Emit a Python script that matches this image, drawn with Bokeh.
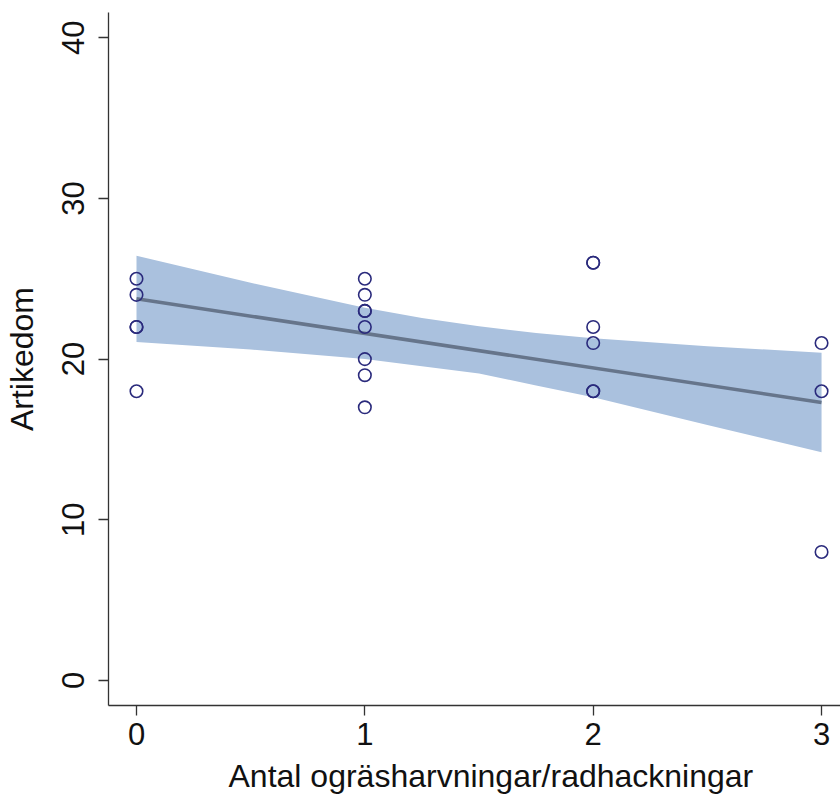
from bokeh.plotting import figure
from bokeh.models import Range1d, FixedTicker, Title
from bokeh.embed import file_html
from bokeh.resources import INLINE

# Observations (x = antal ogräsharvningar/radhackningar, y = artikedom)
x_pts = [0, 0, 0, 0, 0,
         1, 1, 1, 1, 1, 1, 1, 1,
         2, 2, 2, 2, 2, 2,
         3, 3, 3]
y_pts = [25, 24, 22, 22, 18,
         25, 24, 23, 23, 22, 20, 19, 17,
         26, 26, 22, 21, 18, 18,
         21, 18, 8]

# Fitted line
line_x = [0, 3]
line_y = [23.75, 17.3]

# Confidence band
band_x = [0, 0.5, 1, 1.25, 1.5, 1.75, 2, 2.5, 3]
band_upper = [26.43, 24.75, 23.2, 22.56, 22.04, 21.62, 21.3, 20.8, 20.4]
band_lower = [21.07, 20.6, 20.0, 19.56, 19.1, 18.36, 17.62, 15.9, 14.2]

x_ticks = [0, 1, 2, 3]
y_ticks = [0, 10, 20, 30, 40]
x_title = "Antal ogräsharvningar/radhackningar"
y_title = "Artikedom"

FONT = "Liberation Sans"

p = figure(width=840, height=802, output_backend="svg", toolbar_location=None,
           x_range=Range1d(-0.1226, 3.083), y_range=Range1d(-1.556, 41.57),
           min_border_left=108, min_border_right=0, min_border_top=12,
           min_border_bottom=97)
p.outline_line_color = None
p.grid.visible = False
p.background_fill_color = "white"
p.border_fill_color = "white"

p.varea(x=band_x, y1=band_lower, y2=band_upper, fill_color="#aac1de", fill_alpha=1.0)
p.line(x=line_x, y=line_y, line_color="#66758b", line_width=3.5)
p.scatter(x=x_pts, y=y_pts, marker="circle", size=12.5, fill_color=None,
          line_color="#2a2a7c", line_width=1.6)

for ax in (p.xaxis[0], p.yaxis[0]):
    ax.axis_line_color = "#333333"
    ax.axis_line_width = 1.3
    ax.major_tick_line_color = "#333333"
    ax.major_tick_line_width = 1.3
    ax.major_tick_in = 0
    ax.major_tick_out = 10
    ax.minor_tick_line_color = None
    ax.major_label_text_font = FONT
    ax.major_label_text_font_size = "31px"
    ax.major_label_text_color = "#111111"

p.xaxis.ticker = FixedTicker(ticks=x_ticks)
p.yaxis.ticker = FixedTicker(ticks=y_ticks)
p.yaxis.major_label_orientation = "vertical"
p.xaxis.major_label_standoff = 7
p.yaxis.major_label_standoff = 14

p.yaxis.axis_label = y_title
p.yaxis.axis_label_text_font = FONT
p.yaxis.axis_label_text_font_size = "32px"
p.yaxis.axis_label_text_font_style = "normal"
p.yaxis.axis_label_text_color = "#111111"
p.yaxis.axis_label_standoff = 20

p.add_layout(Title(text=x_title, align="left", offset=120, standoff=16,
                   vertical_align="bottom",
                   text_font=FONT, text_font_size="32px", text_font_style="normal",
                   text_color="#111111"), "below")

open("out.html", "w").write(file_html(p, INLINE))
